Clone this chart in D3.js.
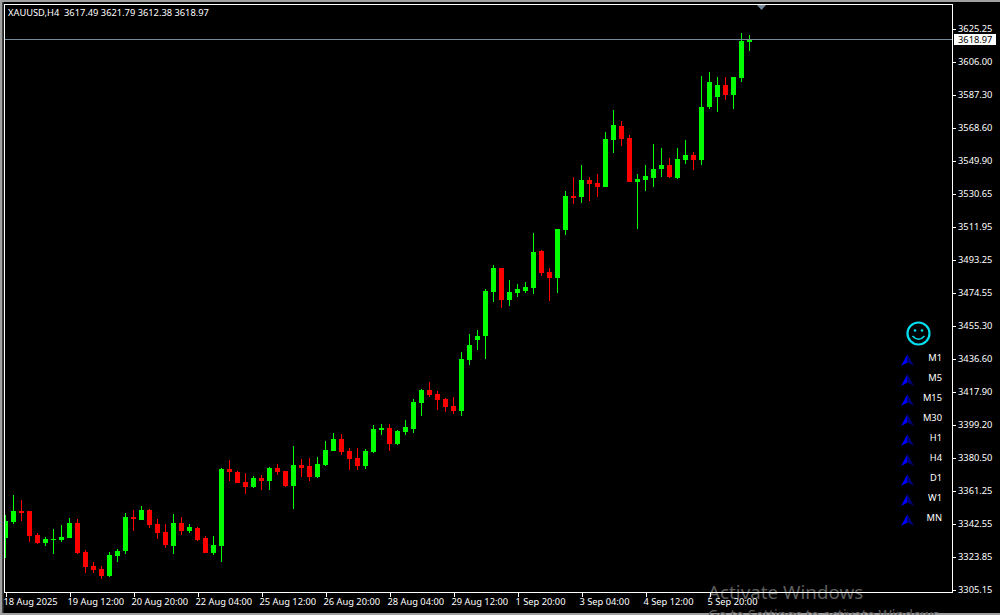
<!DOCTYPE html>
<html><head><meta charset="utf-8">
<style>
html,body{margin:0;padding:0;background:#000;overflow:hidden}
svg{display:block}
text{font-family:"Noto Sans",sans-serif;font-size:9.3px;fill:#fff}
</style>
<script src="https://cdn.jsdelivr.net/npm/d3@7/dist/d3.min.js"></script>
</head><body><svg id="c" width="1000" height="615"></svg>
<script>
const symbolTitle = "XAUUSD,H4  3617.49 3621.79 3612.38 3618.97";
const lastPrice = 3618.97;
const opens = [3334.5,3343.6,3349.9,3349.9,3336.2,3331.7,3333.4,3333.4,3334.5,3343.1,3326.5,3318.5,3316.8,3312.8,3324.2,3327.1,3346.5,3344.8,3350.5,3342.5,3337.9,3329.9,3343.1,3338.5,3340.2,3334.5,3325.9,3329.9,3373.9,3372.2,3366.5,3363.6,3368.8,3367.1,3374.5,3372.8,3364.2,3376.2,3375.6,3369.4,3376.2,3384.2,3391.0,3384.2,3380.2,3375.6,3383.6,3396.1,3397.3,3388.2,3395.0,3396.7,3411.5,3419.0,3416.7,3413.8,3409.9,3407.0,3436.1,3447.5,3449.8,3474.9,3488.6,3470.3,3474.3,3475.5,3477.2,3498.3,3486.3,3482.9,3510.3,3529.7,3529.1,3538.8,3537.1,3534.8,3561.6,3569.6,3562.8,3537.7,3538.8,3540.0,3545.1,3547.4,3540.0,3550.2,3553.1,3550.2,3580.5,3586.2,3593.0,3587.3,3597.0,3617.49];
const highs = [3347.6,3359.1,3356.2,3349.9,3337.4,3335.1,3339.7,3341.9,3345.9,3345.4,3327.7,3320.8,3318.5,3326.5,3328.2,3348.8,3350.5,3352.8,3351.1,3345.4,3342.5,3348.2,3346.5,3342.5,3340.8,3335.7,3335.7,3374.5,3379.0,3372.8,3371.7,3369.9,3370.5,3375.1,3376.8,3372.8,3387.0,3379.6,3380.2,3380.8,3389.9,3394.4,3393.9,3385.9,3385.9,3385.3,3399.0,3399.6,3399.6,3396.1,3401.9,3413.8,3419.5,3423.5,3418.4,3414.4,3415.0,3440.7,3450.9,3453.2,3476.6,3490.3,3488.6,3481.7,3479.5,3480.6,3508.6,3498.9,3488.6,3510.8,3532.5,3540.5,3547.4,3540.5,3542.2,3566.2,3578.7,3572.5,3564.5,3542.2,3547.4,3559.3,3557.1,3551.4,3557.1,3561.6,3554.8,3598.1,3600.4,3597.6,3597.6,3597.6,3622.7,3621.79];
const lows = [3323.1,3342.5,3344.2,3332.2,3331.1,3329.9,3325.4,3332.2,3334.5,3325.4,3314.5,3314.5,3311.1,3312.2,3320.8,3325.4,3338.5,3344.8,3340.2,3333.9,3328.8,3325.4,3336.2,3337.4,3332.8,3325.9,3324.8,3320.8,3367.1,3365.9,3359.7,3363.1,3361.9,3361.9,3370.5,3363.6,3351.1,3369.4,3367.1,3368.8,3375.6,3384.2,3381.9,3373.4,3373.4,3373.9,3383.1,3393.3,3384.2,3387.6,3393.3,3394.4,3404.1,3415.0,3407.6,3406.4,3405.3,3404.1,3433.2,3441.8,3436.7,3469.2,3465.8,3466.9,3472.0,3474.3,3473.8,3484.0,3469.8,3474.3,3507.4,3525.1,3525.7,3526.8,3529.1,3534.8,3554.2,3558.2,3537.7,3510.8,3532.5,3534.8,3540.5,3540.0,3539.4,3547.9,3544.5,3547.4,3579.3,3577.6,3584.4,3579.3,3594.7,3612.38];
const closes = [3344.2,3349.9,3348.8,3335.7,3331.7,3333.9,3333.9,3335.1,3343.1,3325.9,3317.9,3316.2,3312.8,3324.8,3327.1,3346.5,3345.4,3350.5,3341.9,3337.4,3330.5,3343.1,3338.5,3340.8,3333.4,3325.9,3330.5,3373.9,3372.2,3365.9,3363.6,3368.8,3367.1,3374.5,3372.2,3364.2,3376.2,3374.5,3369.4,3376.8,3384.8,3391.0,3383.6,3379.6,3375.6,3384.2,3396.7,3397.3,3388.2,3395.6,3397.9,3412.1,3419.0,3416.1,3413.3,3409.3,3407.0,3436.7,3444.6,3449.8,3475.5,3488.6,3470.3,3474.9,3476.6,3477.8,3497.7,3485.7,3482.9,3510.8,3529.7,3528.5,3538.8,3536.5,3534.8,3562.2,3570.2,3562.2,3537.7,3539.4,3541.1,3545.1,3547.4,3540.5,3550.8,3553.1,3550.2,3580.5,3594.7,3593.0,3587.3,3597.6,3618.1,3618.97];
const bullish = [1,1,0,0,0,1,1,1,1,0,0,0,0,1,1,1,0,1,0,0,0,1,0,1,0,0,1,1,0,0,0,1,0,1,0,0,1,0,0,1,1,1,0,0,0,1,1,1,0,1,1,1,1,0,0,0,0,1,1,1,1,1,0,1,1,1,1,0,0,1,1,0,1,0,0,1,1,0,0,1,1,1,1,0,1,1,0,1,1,1,0,1,1,1];
const priceTicks = ["3625.25","3606.00","3587.30","3568.60","3549.90","3530.65","3511.95","3493.25","3474.55","3455.30","3436.60","3417.90","3399.20","3380.50","3361.25","3342.55","3323.85","3305.15"];
const dateTickBars = [0,8,16,24,32,40,48,56,64,72,80,88];
const dateTicks = ["18 Aug 2025","19 Aug 12:00","20 Aug 20:00","22 Aug 04:00","25 Aug 12:00","26 Aug 20:00","28 Aug 04:00","29 Aug 12:00","1 Sep 20:00","3 Sep 04:00","4 Sep 12:00","5 Sep 20:00"];
const timeframes = ["M1","M5","M15","M30","H1","H4","D1","W1","MN"];

const svg = d3.select("#c");
const plot = {l:4.5, t:4.5, r:952.5, b:592.5};
const x = d3.scaleLinear().domain([0, opens.length-1]).range([5.5, 749.5]);
const y = d3.scaleLinear().domain([3305.15, 3625.25]).range([589.5, 28.5]);
const yTick = d3.scalePoint().domain(priceTicks).range([28.5, 589.5]);
const tf = d3.scalePoint().domain(timeframes).range([357, 517]);
const UP = "#00ff00", DOWN = "#ff0000", FRAME = "#ffffff", GRID = "#778899";

// window edge
svg.append("rect").attr("width",1000).attr("height",615).attr("fill","#000");
svg.append("rect").attr("x",0).attr("y",0).attr("width",1000).attr("height",2).attr("fill","#a0a0a0");
svg.append("rect").attr("x",0).attr("y",0).attr("width",2).attr("height",615).attr("fill","#a0a0a0");
svg.append("rect").attr("x",2).attr("y",2).attr("width",1.5).attr("height",613).attr("fill","#444");
svg.append("rect").attr("x",0).attr("y",613).attr("width",1000).attr("height",2).attr("fill","#a0a0a0");

// watermark
const wm = svg.append("g");
wm.append("text").attr("x",708).attr("y",598.5).style("font-size","18.8px").style("fill","#5e5e5e").text("Activate Windows");
wm.append("text").attr("x",708).attr("y",620).style("font-size","14.2px").style("fill","#5e5e5e").text("Go to Settings to activate Windows.");

// clip + candles
svg.append("clipPath").attr("id","pc").append("rect").attr("x",5).attr("y",5).attr("width",947).attr("height",587);
const g = svg.append("g").attr("clip-path","url(#pc)").attr("shape-rendering","crispEdges");
const idx = d3.range(opens.length);
const col = i => bullish[i] ? UP : DOWN;
g.selectAll("line.w").data(idx).join("line").attr("class","w")
  .attr("x1",i=>x(i)).attr("x2",i=>x(i))
  .attr("y1",i=>Math.round(y(highs[i]))).attr("y2",i=>Math.round(y(lows[i])))
  .attr("stroke",col);
g.selectAll("rect.b").data(idx).join("rect").attr("class","b")
  .attr("x",i=>x(i)-2.5).attr("width",5)
  .attr("y",i=>Math.round(y(Math.max(opens[i],closes[i]))))
  .attr("height",i=>Math.max(1,Math.round(y(Math.min(opens[i],closes[i])))-Math.round(y(Math.max(opens[i],closes[i])))))
  .attr("fill",col);

// last price line
g.append("line").attr("x1",plot.l).attr("x2",plot.r).attr("y1",Math.floor(y(lastPrice))+.5).attr("y2",Math.floor(y(lastPrice))+.5).attr("stroke",GRID);

// frame
svg.append("rect").attr("x",plot.l).attr("y",plot.t).attr("width",plot.r-plot.l).attr("height",plot.b-plot.t)
  .attr("fill","none").attr("stroke",FRAME).attr("shape-rendering","crispEdges");

// shift marker
svg.append("path").attr("d",d3.line()([[757,5],[766,5],[761.5,10]])+"Z").attr("fill",GRID);

// right axis
const yAxis = svg.append("g").attr("transform",`translate(${plot.r},0)`).call(d3.axisRight(yTick).tickSize(3).tickPadding(2));
yAxis.select(".domain").remove();
yAxis.selectAll("line").attr("stroke",FRAME).attr("shape-rendering","crispEdges");
yAxis.selectAll("text").attr("x",5.5).attr("fill","#fff");

// bottom axis
const xAxis = svg.append("g").attr("transform",`translate(0,${plot.b})`)
  .call(d3.axisBottom(x).tickValues(dateTickBars).tickSize(4).tickFormat(d=>dateTicks[dateTickBars.indexOf(d)]));
xAxis.select(".domain").remove();
xAxis.selectAll("line").attr("stroke",FRAME).attr("shape-rendering","crispEdges");
xAxis.selectAll("text").attr("text-anchor","start").attr("x",-2.5).attr("y",6).attr("fill","#fff");

// current price tag
svg.append("rect").attr("x",954).attr("y",34).attr("width",42).attr("height",11).attr("fill","#fff");
svg.append("text").attr("x",958).attr("y",42.8).style("fill","#000").text(d3.format(".2f")(lastPrice));

// header
svg.append("text").attr("x",8).attr("y",15.5).attr("xml:space","preserve").style("white-space","pre").text(symbolTitle);

// smiley
const sm = svg.append("g").attr("transform","translate(918.5,333.5)").attr("fill","none").attr("stroke","#00e0f0");
sm.append("circle").attr("r",11).attr("stroke-width",2.2);
sm.append("circle").attr("cx",-3.5).attr("cy",-3).attr("r",1.3).attr("fill","#00e0f0").attr("stroke","none");
sm.append("circle").attr("cx",3.5).attr("cy",-3).attr("r",1.3).attr("fill","#00e0f0").attr("stroke","none");
sm.append("path").attr("d","M-6,2.5 Q0,9 6,2.5").attr("stroke-width",1.6);

// timeframe arrows + labels
const rows = svg.selectAll("g.tf").data(timeframes).join("g").attr("class","tf").attr("transform",d=>`translate(0,${tf(d)})`);
rows.append("path").attr("d","M907.5,-3 L901,9 L907.5,5.5 Z").attr("fill","#0000ff");
rows.append("path").attr("d","M907.5,-3 L914,9 L907.5,5.5 Z").attr("fill","#00007a");
rows.append("text").attr("x",942).attr("y",3.5).attr("text-anchor","end").text(d=>d);
</script></body></html>
